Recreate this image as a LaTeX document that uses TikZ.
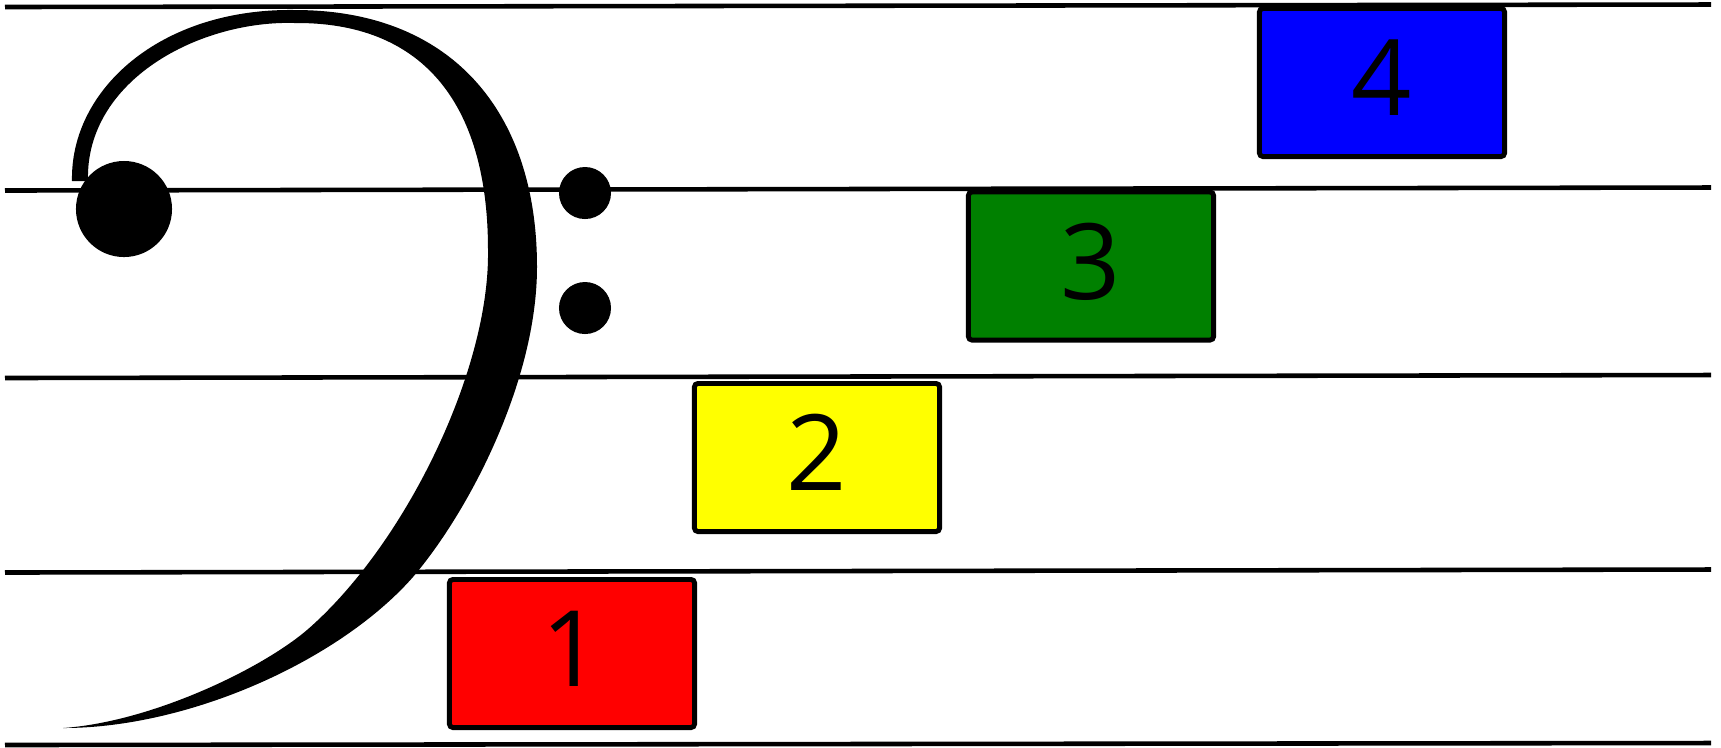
\documentclass[tikz,border=0pt]{standalone}
\usepackage{fontspec}
\setsansfont{Open Sans}
\usepackage{xcolor}
\usepackage{tikz}

\definecolor{notered}{HTML}{FF0000}
\definecolor{noteyellow}{HTML}{FFFF00}
\definecolor{notegreen}{HTML}{008000}
\definecolor{noteblue}{HTML}{0000FF}

\begin{document}
\begin{tikzpicture}[x=0.01cm, y=-0.01cm,
    notebox/.style={draw, line width=1.4pt, rounded corners=1pt, minimum width=2.45cm, minimum height=1.48cm, inner sep=0pt, text depth=0.1cm, font=\sffamily\fontsize{30}{30}\selectfont}]
    \useasboundingbox (0,0) rectangle (1721,747);

    % Staff lines
    \foreach \ya/\yb in {7/4.5, 190.5/187.5, 378/375, 572.5/569.5, 745/743}
        \draw[line width=1.3pt] (5,\ya) -- (1711,\yb);

    % Bass clef
    \fill (72,181) .. controls (70,90) and (160,8) .. (295,10)
        .. controls (450,10) and (537,110) .. (537,267)
        .. controls (537,380) and (470,510) .. (413,577)
        .. controls (340,660) and (190,728) .. (63,728)
        .. controls (150,722) and (260,670) .. (307,630)
        .. controls (405,545) and (490,370) .. (488,250)
        .. controls (488,100) and (420,22) .. (295,23)
        .. controls (200,20) and (85,80) .. (88,181) -- cycle;
    \fill (124,209) circle[radius=0.48cm];
    \fill (585,193) circle[radius=0.26cm];
    \fill (585,308) circle[radius=0.26cm];

    % Notes
    \node[notebox, fill=notered] (one) at (572,653.5) {1};
    \node[notebox, fill=noteyellow] (two) at (817,457.5) {2};
    \node[notebox, fill=notegreen] (three) at (1091,266) {3};
    \node[notebox, fill=noteblue] (four) at (1382,82.5) {4};
\end{tikzpicture}
\end{document}
